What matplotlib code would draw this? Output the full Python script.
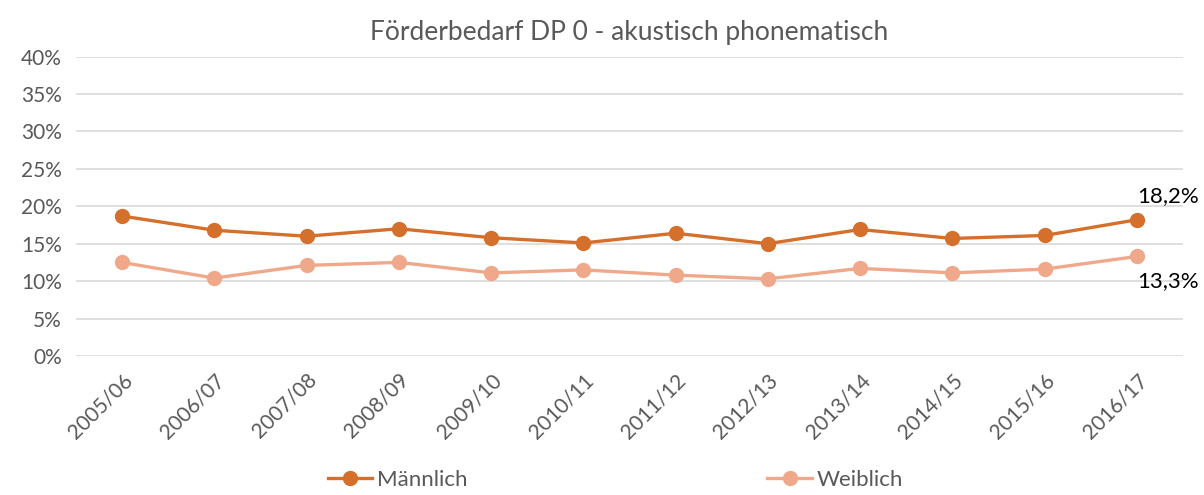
import matplotlib.pyplot as plt
from matplotlib.ticker import FuncFormatter

years = ["2005/06", "2006/07", "2007/08", "2008/09", "2009/10", "2010/11",
         "2011/12", "2012/13", "2013/14", "2014/15", "2015/16", "2016/17"]
maennlich = [18.7, 16.8, 16.0, 17.0, 15.8, 15.1, 16.4, 15.0, 16.9, 15.7, 16.1, 18.2]
weiblich = [12.5, 10.4, 12.1, 12.5, 11.1, 11.5, 10.8, 10.3, 11.7, 11.1, 11.6, 13.3]

plt.rcParams['font.family'] = ['Lato', 'DejaVu Sans']
grey = "#595959"
c_m = "#D4702C"
c_w = "#F0A88A"

fig = plt.figure(figsize=(12.04, 4.95), dpi=100)
ax = fig.add_axes([0.063, 0.281, 0.9196, 0.6045])

x = range(len(years))
ax.plot(x, maennlich, color=c_m, lw=2.4, marker="o", ms=10, label="Männlich", zorder=3)
ax.plot(x, weiblich, color=c_w, lw=2.4, marker="o", ms=10, label="Weiblich", zorder=3)

ax.annotate("18,2%", (x[-1], maennlich[-1]), xytext=(0, 17), textcoords="offset points",
            ha="left", va="center", fontsize=16, color="black", annotation_clip=False)
ax.annotate("13,3%", (x[-1], weiblich[-1]), xytext=(0, -18), textcoords="offset points",
            ha="left", va="center", fontsize=16, color="black", annotation_clip=False)

ax.set_xlim(-0.5, len(years) - 0.5)
ax.set_ylim(0, 40)
ax.set_yticks(range(0, 41, 5))
ax.yaxis.set_major_formatter(FuncFormatter(lambda v, p: f"{v:.0f}%"))
ax.set_xticks(list(x))
ax.set_xticklabels(years, rotation=45, ha="right", rotation_mode="anchor")
ax.grid(axis="y", color="#D9D9D9", lw=1.2)
ax.set_axisbelow(True)
for s in ax.spines.values():
    s.set_visible(False)
ax.tick_params(length=0, labelsize=15, colors=grey, pad=10)
ax.tick_params(axis="x", pad=10)

ax.set_title("Förderbedarf DP 0 - akustisch phonematisch", fontsize=19, color=grey, pad=12)
fig.legend(loc="lower center", bbox_to_anchor=(0.511, -0.03), ncol=2, frameon=False,
           fontsize=16, labelcolor=grey, columnspacing=13.5, handlelength=2.0, handletextpad=0.2)

fig.savefig("out.png", dpi=100)
